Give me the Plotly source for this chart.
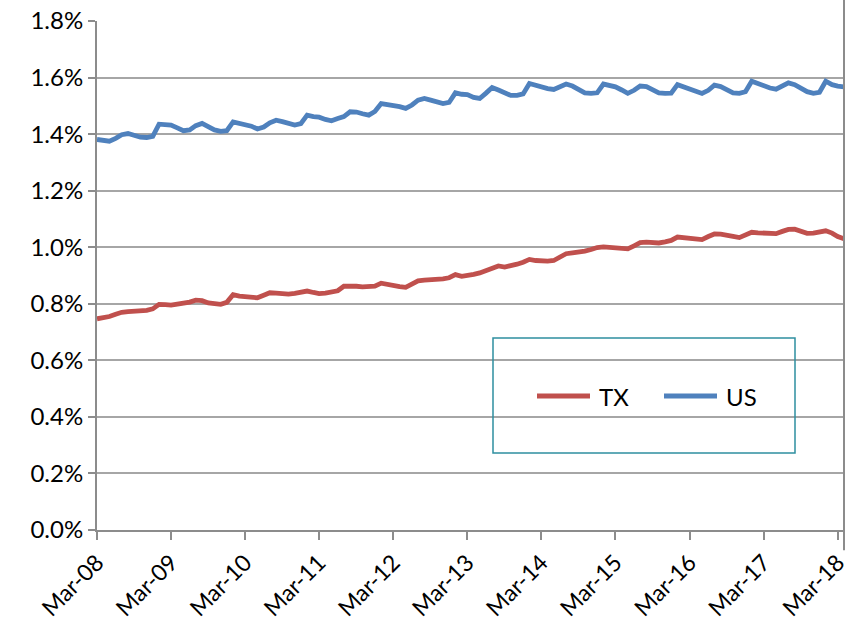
import pandas as pd
import plotly.graph_objects as go

# Monthly, Mar-08 .. Apr-18
months = pd.date_range("2008-03-01", "2018-04-01", freq="MS")

tx = [0.747, 0.749, 0.755, 0.763, 0.770, 0.772, 0.773, 0.774, 0.777, 0.782,
      0.798, 0.797, 0.795, 0.799, 0.802, 0.806, 0.813, 0.811, 0.803, 0.799,
      0.798, 0.805, 0.832, 0.827, 0.826, 0.823, 0.821, 0.830, 0.839, 0.838,
      0.835, 0.834, 0.837, 0.841, 0.845, 0.840, 0.836, 0.838, 0.842, 0.846,
      0.862, 0.864, 0.862, 0.860, 0.861, 0.862, 0.873, 0.868, 0.866, 0.861,
      0.858, 0.870, 0.881, 0.884, 0.884, 0.885, 0.888, 0.892, 0.903, 0.897,
      0.899, 0.904, 0.909, 0.918, 0.929, 0.934, 0.930, 0.933, 0.940, 0.947,
      0.957, 0.953, 0.951, 0.951, 0.953, 0.965, 0.977, 0.980, 0.982, 0.986,
      0.992, 0.999, 1.001, 1.000, 0.997, 0.995, 0.994, 1.005, 1.016, 1.018,
      1.016, 1.015, 1.019, 1.024, 1.036, 1.034, 1.030, 1.028, 1.027, 1.038,
      1.047, 1.046, 1.044, 1.038, 1.034, 1.042, 1.053, 1.051, 1.050, 1.049,
      1.048, 1.056, 1.063, 1.064, 1.058, 1.049, 1.050, 1.056, 1.058, 1.050,
      1.038, 1.030]

us = [1.381, 1.377, 1.375, 1.385, 1.398, 1.402, 1.395, 1.389, 1.388, 1.392,
      1.435, 1.432, 1.432, 1.422, 1.412, 1.415, 1.430, 1.438, 1.428, 1.415,
      1.410, 1.412, 1.443, 1.438, 1.435, 1.428, 1.418, 1.425, 1.440, 1.449,
      1.444, 1.436, 1.432, 1.437, 1.467, 1.462, 1.460, 1.452, 1.447, 1.455,
      1.462, 1.479, 1.478, 1.472, 1.467, 1.480, 1.508, 1.504, 1.502, 1.497,
      1.491, 1.503, 1.520, 1.526, 1.520, 1.514, 1.508, 1.512, 1.546, 1.541,
      1.540, 1.530, 1.526, 1.545, 1.565, 1.556, 1.545, 1.537, 1.537, 1.542,
      1.579, 1.572, 1.567, 1.561, 1.558, 1.566, 1.577, 1.570, 1.558, 1.546,
      1.544, 1.546, 1.577, 1.572, 1.567, 1.556, 1.544, 1.555, 1.570, 1.568,
      1.556, 1.546, 1.544, 1.545, 1.575, 1.568, 1.562, 1.552, 1.544, 1.555,
      1.573, 1.568, 1.556, 1.546, 1.544, 1.550, 1.587, 1.578, 1.572, 1.563,
      1.559, 1.570, 1.581, 1.575, 1.563, 1.550, 1.544, 1.548, 1.587, 1.575,
      1.570, 1.567]

series_names = ["TX", "US"]
series_colors = ["#C0504D", "#4F81BD"]

tick_vals = pd.date_range("2008-03-01", "2018-03-01", freq="12MS")
tick_text = ["Mar-08", "Mar-09", "Mar-10", "Mar-11", "Mar-12", "Mar-13",
             "Mar-14", "Mar-15", "Mar-16", "Mar-17", "Mar-18"]
y_ticks = [0.0, 0.2, 0.4, 0.6, 0.8, 1.0, 1.2, 1.4, 1.6, 1.8]
y_text = ["0.0%", "0.2%", "0.4%", "0.6%", "0.8%", "1.0%", "1.2%", "1.4%", "1.6%", "1.8%"]

FONT = "Lato"
FS = 24
XFS = 23
L, R, T, B = 97, 22, 21, 93
PW, PH = 866 - L - R, 623 - T - B


def px(xp):
    return (xp - L) / PW


def py(yp):
    return (623 - B - yp) / PH


fig = go.Figure()
for name, vals, col in zip(series_names, [tx, us], series_colors):
    fig.add_trace(go.Scatter(x=months, y=vals, name=name, mode="lines",
                             line=dict(color=col, width=4.8), showlegend=False))

shapes = [
    dict(type="rect", xref="paper", yref="paper",
         x0=px(493), x1=px(795), y0=py(453), y1=py(338),
         line=dict(color="#2E8FA0", width=1.5), fillcolor="rgba(0,0,0,0)"),
    dict(type="line", xref="paper", yref="paper", x0=1, x1=1, y0=-0.04, y1=1.05,
         line=dict(color="#8C8C8C", width=2)),
]
annotations = []
# legend entries (line sample + label) inside the box
for name, col, x_start in zip(series_names, series_colors, [537, 664]):
    shapes.append(dict(type="line", xref="paper", yref="paper",
                       x0=px(x_start), x1=px(x_start + 53), y0=py(396), y1=py(396),
                       line=dict(color=col, width=4.8)))
    annotations.append(dict(xref="paper", yref="paper", x=px(x_start + 60), y=py(396),
                            text=name, showarrow=False, xanchor="left", yanchor="middle",
                            font=dict(family=FONT, size=FS, color="black")))

fig.update_layout(
    width=866, height=623,
    margin=dict(l=L, r=R, t=T, b=B),
    paper_bgcolor="white", plot_bgcolor="white",
    font=dict(family=FONT, size=FS, color="black"),
    showlegend=False,
    xaxis=dict(type="date", range=[months[0], months[-1]], automargin=False,
               tickvals=tick_vals, ticktext=tick_text, tickangle=-45,
               showgrid=False, showline=True, linecolor="#8C8C8C", linewidth=2,
               ticks="outside", ticklen=8, tickcolor="#8C8C8C", tickwidth=2,
               tickfont=dict(family=FONT, size=XFS), zeroline=False),
    yaxis=dict(range=[0, 1.8], tickvals=y_ticks, ticktext=y_text, automargin=False,
               showgrid=True, gridcolor="#A6A6A6", gridwidth=2,
               showline=True, linecolor="#8C8C8C", linewidth=2,
               ticks="outside", ticklen=7, tickcolor="#8C8C8C", tickwidth=2,
               tickfont=dict(family=FONT, size=FS), zeroline=False),
    shapes=shapes,
    annotations=annotations,
)

fig.write_html("out.html", config={"displayModeBar": False},
               post_script="document.body.style.margin='0px';")
